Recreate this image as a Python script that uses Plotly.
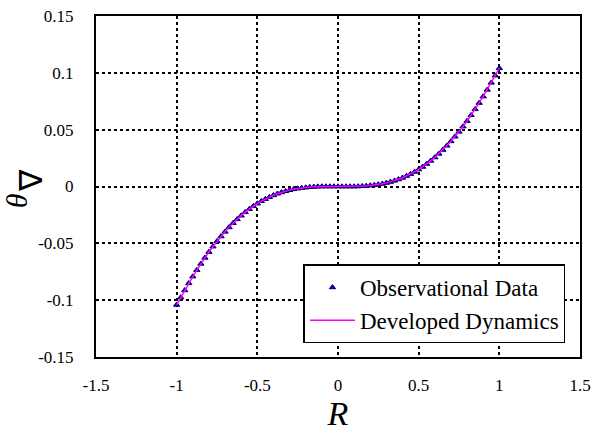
import plotly.graph_objects as go

r_pos = [0.0, 0.025, 0.05, 0.075, 0.1, 0.125, 0.15, 0.175, 0.2, 0.225, 0.25, 0.275, 0.3, 0.325, 0.35,
         0.375, 0.4, 0.425, 0.45, 0.475, 0.5, 0.525, 0.55, 0.575, 0.6, 0.625, 0.65, 0.675, 0.7, 0.725,
         0.75, 0.775, 0.8, 0.825, 0.85, 0.875, 0.9, 0.925, 0.95, 0.975, 1.0]
theta_pos = [0.0, 0.0, 0.0, 0.0, 0.0, 0.0001, 0.0003, 0.0005, 0.0009, 0.0013, 0.0018, 0.0024, 0.0032,
             0.0041, 0.0051, 0.0063, 0.0077, 0.0093, 0.0110, 0.0129, 0.0150, 0.0173, 0.0199, 0.0226,
             0.0256, 0.0288, 0.0322, 0.0359, 0.0398, 0.0439, 0.0482, 0.0528, 0.0576, 0.0627, 0.0680,
             0.0735, 0.0792, 0.0851, 0.0913, 0.0976, 0.1041]
r_neg = [-1.0, -0.975, -0.95, -0.925, -0.9, -0.875, -0.85, -0.825, -0.8, -0.775, -0.75, -0.725, -0.7,
         -0.675, -0.65, -0.625, -0.6, -0.575, -0.55, -0.525, -0.5, -0.475, -0.45, -0.425, -0.4, -0.375,
         -0.35, -0.325, -0.3, -0.275, -0.25, -0.225, -0.2, -0.175, -0.15, -0.125, -0.1, -0.075, -0.05,
         -0.025]
theta_neg = [-0.1041, -0.0976, -0.0913, -0.0851, -0.0792, -0.0735, -0.0680, -0.0627, -0.0576, -0.0528,
             -0.0482, -0.0439, -0.0398, -0.0359, -0.0322, -0.0288, -0.0256, -0.0226, -0.0199, -0.0173,
             -0.0150, -0.0129, -0.0110, -0.0093, -0.0077, -0.0063, -0.0051, -0.0041, -0.0032, -0.0024,
             -0.0018, -0.0013, -0.0009, -0.0005, -0.0003, -0.0001, 0.0, 0.0, 0.0, 0.0]

R_obs = r_neg + r_pos
theta_obs = theta_neg + theta_pos
R_model = R_obs
theta_model = theta_obs

x_ticks = [-1.5, -1, -0.5, 0, 0.5, 1, 1.5]
x_labels = ["-1.5", "-1", "-0.5", "0", "0.5", "1", "1.5"]
y_ticks = [-0.15, -0.1, -0.05, 0, 0.05, 0.1, 0.15]
y_labels = ["-0.15", "-0.1", "-0.05", "0", "0.05", "0.1", "0.15"]

font = "Liberation Serif, Times New Roman, serif"

fig = go.Figure()
fig.add_trace(go.Scatter(
    x=R_obs, y=theta_obs, mode="markers", name="Observational Data",
    marker=dict(symbol="triangle-up", size=5.5, color="#0000ff",
                line=dict(color="#000050", width=1)),
    legendrank=1,
))
fig.add_trace(go.Scatter(
    x=R_model, y=theta_model, mode="lines", name="Developed Dynamics",
    line=dict(color="#ff00ff", width=1.5),
    legendrank=2,
))

axis_common = dict(
    showline=True, mirror=True, linecolor="black", linewidth=2,
    showgrid=True, gridcolor="black", gridwidth=1.5, griddash="dot",
    zeroline=False, ticks="outside", tickcolor="rgba(0,0,0,0)",
    tickfont=dict(family=font, size=17, color="black"),
    ticklabeloverflow="allow",
)

# y-axis title pieces (rotated), positioned in paper coordinates
L, R_, T, B = 96, 587, 7, 357
def px_to_paper(px, py):
    return (px - L) / (R_ - L), (B - py) / (B - T)

tx, ty = px_to_paper(15, 197)
nx, ny = px_to_paper(30, 175)

fig.update_layout(
    width=598, height=438,
    margin=dict(l=96, r=11, t=7, b=81),
    paper_bgcolor="white", plot_bgcolor="white",
    font=dict(family=font, color="black"),
    xaxis=dict(range=[-1.5, 1.5], tickvals=x_ticks, ticktext=x_labels, ticklen=12,
               title=dict(text="<i>R</i>", font=dict(family=font, size=34), standoff=4),
               **axis_common),
    yaxis=dict(range=[-0.15, 0.15], tickvals=y_ticks, ticktext=y_labels, ticklen=17,
               **axis_common),
    legend=dict(x=0.97, y=0.04, xanchor="right", yanchor="bottom",
                bgcolor="white", bordercolor="black", borderwidth=1.5,
                font=dict(family=font, size=23, color="black"),
                itemwidth=45, tracegroupgap=0),
    showlegend=True,
    annotations=[
        dict(text="<i>θ</i>", xref="paper", yref="paper", x=tx, y=ty, textangle=-90,
             showarrow=False, xanchor="center", yanchor="middle",
             font=dict(family=font, size=30, color="black")),
        dict(text="∇", xref="paper", yref="paper", x=nx, y=ny, textangle=-90,
             showarrow=False, xanchor="center", yanchor="middle",
             font=dict(family=font, size=32, color="black")),
    ],
)

fig.write_html("out.html")
